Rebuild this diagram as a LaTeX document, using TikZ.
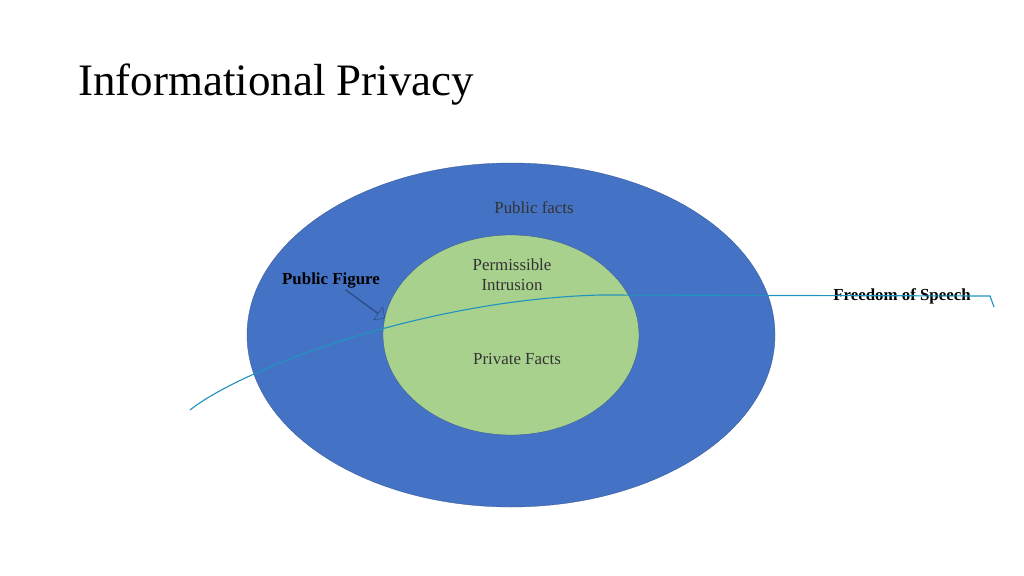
\documentclass[tikz,border=0pt]{standalone}
\usepackage{fontspec}
\setmainfont{Liberation Serif}
\usetikzlibrary{positioning, shapes.arrows}
\definecolor{outerBlue}{RGB}{68,114,196}
\definecolor{innerGreen}{RGB}{169,209,142}
\definecolor{speechLine}{RGB}{32,148,190}

\begin{document}
\begin{tikzpicture}[x=0.05cm, y=-0.05cm]
\tikzset{lbl/.style={font=\fontsize{24}{28}\selectfont, text=black!80, inner sep=0pt}}
\useasboundingbox (0,0) rectangle (1024,576);

% Titre
\node[font=\fontsize{64}{72}\selectfont, anchor=west, inner sep=0pt] (title) at (78,85) {Informational Privacy};

% Ellipses
\draw[fill=outerBlue, draw=outerBlue!70!black, thin] (511,335) ellipse [x radius=264, y radius=172];
\draw[fill=innerGreen, draw=outerBlue!70!black, thin] (511,335) ellipse [x radius=128, y radius=100];

% Textes
\node[lbl] (pub) at (534,208) {Public facts};
\node[lbl, align=center] (perm) at (512,275) {Permissible\\Intrusion};
\node[lbl] (priv) at (517,359) {Private Facts};
\node[lbl, font=\fontsize{24}{28}\selectfont\bfseries, text=black] (fig) at (331,281) {Public Figure};
\node[lbl, font=\fontsize{24}{28}\selectfont\bfseries, text=black] (speech) at (902,296) {Freedom of Speech};

% Ligne
\coordinate (start) at (190,410);
\coordinate (hook) at (994,307);
\draw[speechLine, line width=1.6pt] (start) .. controls (240,370) and (420,300) .. (600,295)
    -- (990,296) -- (hook);

% Fleche
\node[single arrow, draw=outerBlue!50!black, fill=outerBlue, thin, minimum height=24mm, minimum width=8mm,
    single arrow head extend=1.2mm, inner sep=0pt, rotate=-36] (arr) at (365,304) {};
\end{tikzpicture}
\end{document}
